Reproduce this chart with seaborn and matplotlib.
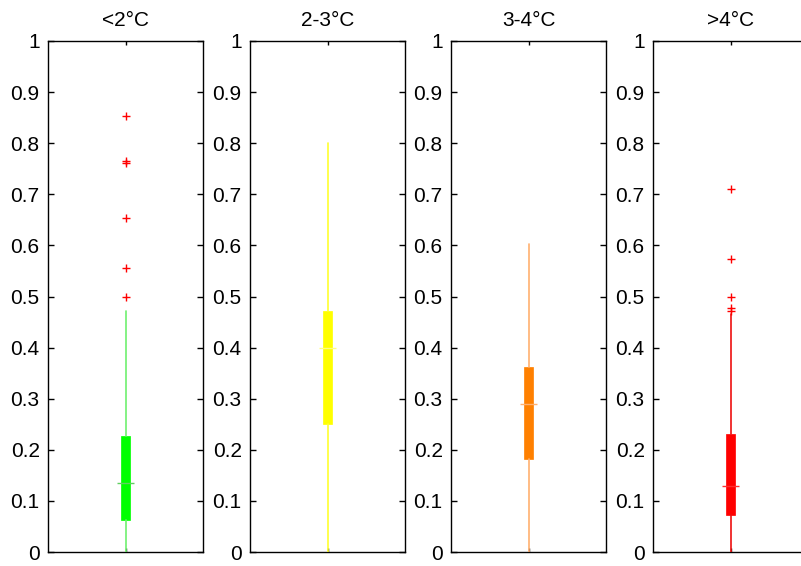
import matplotlib
matplotlib.use("Agg")
import matplotlib.pyplot as plt
from matplotlib.ticker import FormatStrFormatter
import numpy as np
import seaborn as sns

# ---- data ----
titles = ["<2°C", "2-3°C", "3-4°C", ">4°C"]
box_colors = ["#00ff00", "#ffff00", "#ff8000", "#ff0000"]
whisker_colors = ["#70f070", "#ffff30", "#ffb070", "#ee1010"]
median_colors = ["#60d060", "#ffff80", "#ffb070", "#ff3030"]
whisker_lo = [0.0, 0.0, 0.0, 0.0]
q1 = [0.063, 0.250, 0.182, 0.072]
medians = [0.135, 0.400, 0.290, 0.129]
q3 = [0.227, 0.472, 0.362, 0.231]
whisker_hi = [0.472, 0.800, 0.603, 0.465]
outliers = [
    [0.853, 0.765, 0.761, 0.654, 0.556, 0.499],
    [],
    [],
    [0.711, 0.573, 0.499, 0.478, 0.472],
]
yticks = [0, 0.1, 0.2, 0.3, 0.4, 0.5, 0.6, 0.7, 0.8, 0.9, 1.0]

sns.set_style("ticks")
plt.rcParams["font.family"] = ["Liberation Sans", "DejaVu Sans"]
plt.rcParams["text.color"] = "black"

W, H = 801, 566
fig = plt.figure(figsize=(W / 100, H / 100), dpi=100)
fig.patch.set_facecolor("white")

lefts = [48, 250, 451, 653]
ax_w, ax_top, ax_bot = 155, 41, 552

for i in range(4):
    ax = fig.add_axes([lefts[i] / W, (H - ax_bot) / H, ax_w / W, (ax_bot - ax_top) / H])
    stats = [dict(med=medians[i], q1=q1[i], q3=q3[i],
                  whislo=whisker_lo[i], whishi=whisker_hi[i], fliers=[])]
    res = ax.bxp(stats, positions=[1], widths=0.058, patch_artist=True,
                 showcaps=False, showfliers=False,
                 boxprops=dict(facecolor=box_colors[i], edgecolor=box_colors[i], linewidth=0.5),
                 whiskerprops=dict(color=whisker_colors[i], linewidth=1.2),
                 medianprops=dict(color=median_colors[i], linewidth=1.0),
                 zorder=3)
    for m in res["medians"]:
        m.set_xdata([1 - 0.052, 1 + 0.052])
    if outliers[i]:
        sns.scatterplot(x=[1] * len(outliers[i]), y=outliers[i], marker="+",
                        color="#ff0000", s=28, linewidth=1.0, ax=ax, zorder=4)
    ax.set_xlim(0.5, 1.5)
    ax.set_ylim(0, 1)
    ax.set_xticks([1])
    ax.set_xticklabels([])
    ax.set_yticks(yticks)
    ax.yaxis.set_major_formatter(FormatStrFormatter("%g"))
    ax.tick_params(axis="both", direction="in", length=4, width=1.0,
                   top=True, right=True, labelsize=15, pad=6, colors="black")
    ax.tick_params(axis="x", length=3)
    for s in ax.spines.values():
        s.set_visible(True)
        s.set_color("black")
        s.set_linewidth(1.0)
    ax.set_xlabel("")
    ax.set_ylabel("")
    ax.set_title(titles[i], fontsize=15, pad=11, color="black")
    ax.grid(False)

fig.savefig("out.png", dpi=100)
